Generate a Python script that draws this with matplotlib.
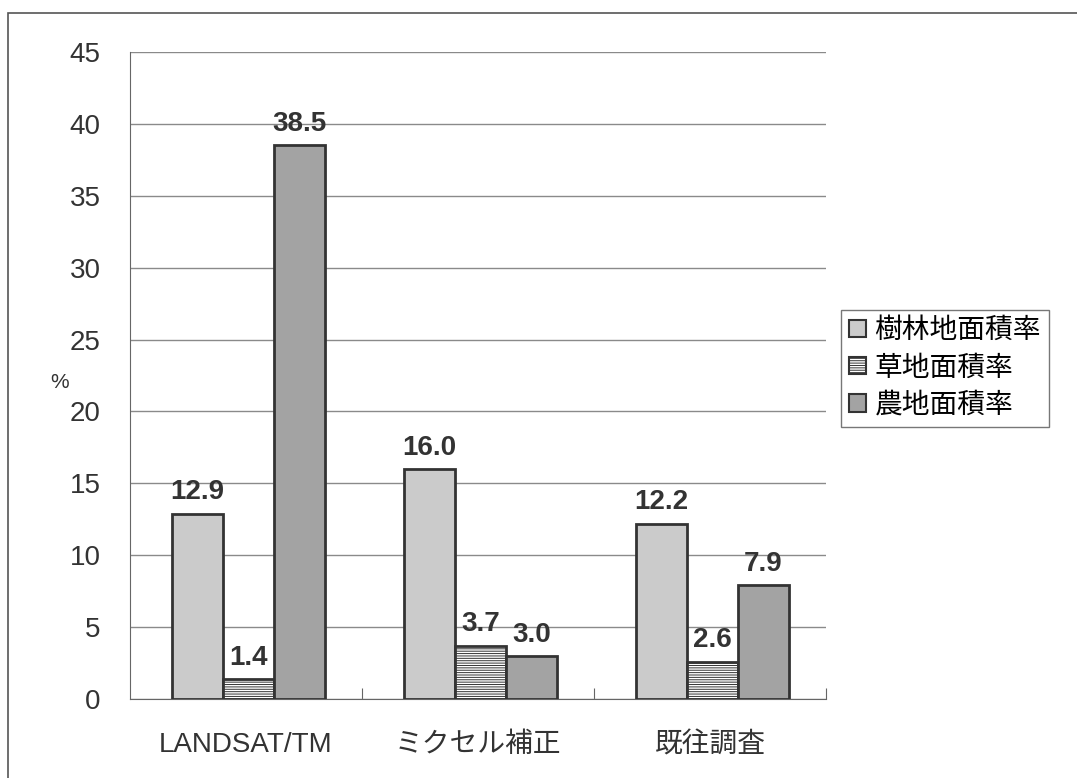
import matplotlib
matplotlib.use("Agg")
import matplotlib.pyplot as plt
from matplotlib.patches import Rectangle, Patch
import numpy as np

plt.rcParams['font.family'] = ['Liberation Sans', 'Noto Sans CJK JP', 'DejaVu Sans']
plt.rcParams['hatch.color'] = '#9a9a9a'
plt.rcParams['hatch.linewidth'] = 0.7

categories = ['LANDSAT/TM', 'ミクセル補正', '既往調査']
series_names = ['樹林地面積率', '草地面積率', '農地面積率']
forest = [12.9, 16.0, 12.2]
grass = [1.4, 3.7, 2.6]
farm = [38.5, 3.0, 7.9]
y_ticks = [0, 5, 10, 15, 20, 25, 30, 35, 40, 45]

series = [forest, grass, farm]
faces = ['#cbcbcb', 'white', '#a3a3a3']
hatches = [None, '-------', None]
edge = '#333333'

fig = plt.figure(figsize=(10.77, 7.78), dpi=100)
# outer chart-area frame
fig.patches.append(Rectangle((8 / 1077, -0.05), 1.2, 1 - 13 / 778 + 0.05,
                             transform=fig.transFigure, fill=False,
                             edgecolor='#555555', linewidth=1.2))

ax = fig.add_axes([130 / 1077, 1 - 699 / 778, (826 - 130) / 1077, (699 - 52) / 778])

x = np.arange(len(categories))
w = 0.22
for i, (vals, fc, h) in enumerate(zip(series, faces, hatches)):
    pos = x + (i - 1) * w + 0.01
    bars = ax.bar(pos, vals, width=w, facecolor=fc, edgecolor=edge,
                  linewidth=2, hatch=h, zorder=3)
    for b, v in zip(bars, vals):
        ax.annotate(f'{v:.1f}', (b.get_x() + b.get_width() / 2, v),
                    xytext=(0, 6), textcoords='offset points',
                    ha='center', va='bottom', fontsize=20, fontweight='bold',
                    color='#333333', zorder=4)

ax.set_xlim(-0.5, 2.5)
ax.set_ylim(0, 45)
ax.set_yticks(y_ticks)
ax.yaxis.grid(True, color='#8a8a8a', linewidth=1, zorder=0)
ax.set_axisbelow(True)
ax.tick_params(axis='y', labelsize=20, length=0, pad=21, colors='#333333')
ax.set_xticks([0.5, 1.5, 2.5], minor=False)
ax.set_xticklabels([])
ax.set_xticks(x, minor=True)
ax.set_xticklabels(categories, minor=True, fontsize=20, color='#333333')
ax.tick_params(axis='x', which='minor', length=0, pad=24)
ax.tick_params(axis='x', which='major', direction='in', length=8, color='#666666')
for s in ['top', 'right']:
    ax.spines[s].set_visible(False)
ax.spines['left'].set_color('#666666')
ax.spines['bottom'].set_color('#666666')

fig.text(60 / 1077, 1 - 382 / 778, '%', fontsize=15, color='#333333',
         ha='center', va='center')

handles = [Patch(facecolor=fc, edgecolor=edge, hatch=h, linewidth=1.5)
           for fc, h in zip(faces, hatches)]
fig.legend(handles, series_names, loc='upper left',
           bbox_to_anchor=(841 / 1077, 1 - 310 / 778), fontsize=20,
           frameon=True, fancybox=False, edgecolor='#555555',
           handlelength=0.6, handleheight=0.6, handletextpad=0.3,
           labelspacing=0.4, borderpad=0.3, borderaxespad=0)

fig.savefig('out.png', dpi=100)
